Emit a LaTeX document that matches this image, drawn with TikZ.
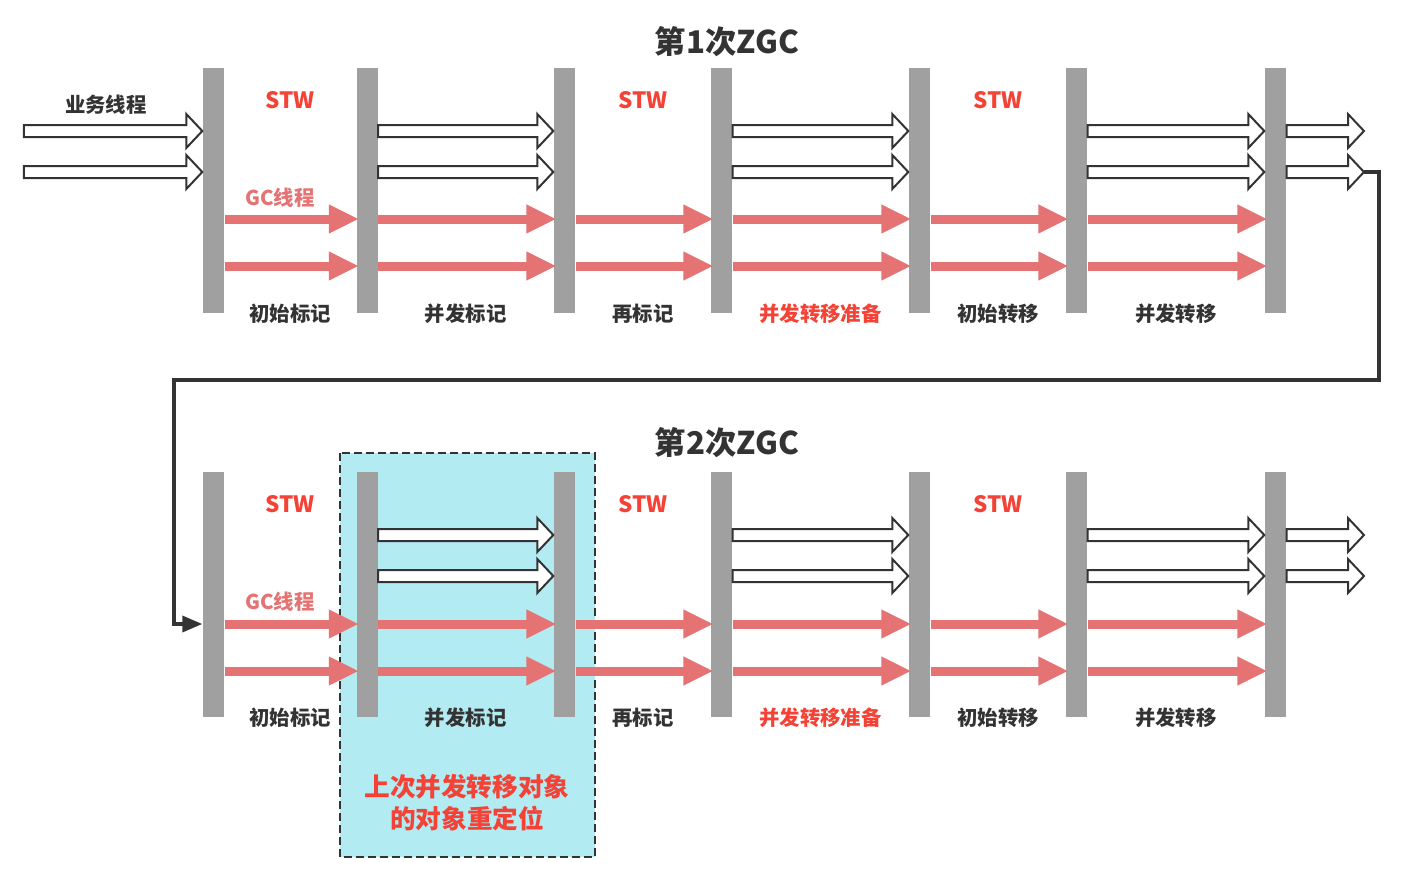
\documentclass[tikz,border=0pt]{standalone}
\usepackage{fontspec}
\setmainfont{Noto Sans CJK SC}
\usetikzlibrary{arrows.meta,calc}

\definecolor{bargray}{RGB}{160,160,160}
\definecolor{gcred}{RGB}{229,115,115}
\definecolor{stwred}{RGB}{244,67,54}
\definecolor{ink}{RGB}{51,51,51}
\definecolor{relocbg}{RGB}{178,235,242}

% hollow arrow of a business thread, from #1 to #2
\newcommand{\bizarrow}[2]{\draw[bizline] let \p1=#1, \p2=#2 in
  (\x1,\y1+0.6mm) -- (\x2-1.6mm,\y1+0.6mm) -- (\x2-1.6mm,\y1+1.7mm) -- (\x2,\y1)
  -- (\x2-1.6mm,\y1-1.7mm) -- (\x2-1.6mm,\y1-0.6mm) -- (\x1,\y1-0.6mm) -- cycle;}

\tikzset{
  bar/.style={fill=bargray, draw=none, inner sep=0pt, minimum width=2.1mm, minimum height=24.5mm},
  gcline/.style={draw=gcred, line width=0.9mm, shorten >=-0.3mm, -{Triangle[length=3mm,width=2.7mm]}},
  bizline/.style={draw=ink, fill=white, line width=0.2mm, line join=miter},
  loopline/.style={draw=ink, line width=0.35mm, -{Triangle[length=2mm,width=1.6mm]}},
  phase/.style={font=\fontsize{5.8}{7}\selectfont\bfseries, text=ink},
  redphase/.style={phase, text=stwred},
  stw/.style={font=\fontsize{6.4}{8}\selectfont\bfseries, text=stwred},
  gclabel/.style={font=\fontsize{5.8}{7}\selectfont\bfseries, text=gcred},
  heading/.style={font=\fontsize{8.9}{11}\selectfont\bfseries, text=ink},
  relocbox/.style={fill=relocbg, draw=ink, line width=0.2mm, dash pattern=on 0.8mm off 0.4mm},
  reloctext/.style={font=\fontsize{7.3}{9.1}\selectfont\bfseries, text=stwred, align=center}
}

\begin{document}
\begin{tikzpicture}[x=0.1mm,y=-0.1mm]
\useasboundingbox (0,0) rectangle (1403,882);

% relocation area behind the second cycle
\draw[relocbox] (340,453) rectangle (595,857);
\node[reloctext] (reloc) at (467,803) {上次并发转移对象\\的对象重定位};

% rows
\coordinate (tu1) at (0,131);
\coordinate (tu2) at (0,172);
\coordinate (tg1) at (0,219);
\coordinate (tg2) at (0,266);
\coordinate (bu1) at (0,535);
\coordinate (bu2) at (0,576);
\coordinate (bg1) at (0,624);
\coordinate (bg2) at (0,671);

% first ZGC
\node[heading] (z1) at (727,42) {第1次ZGC};
\node[bar] (t1) at (213.5,190.5) {};
\node[bar] (t2) at (367,190.5) {};
\node[bar] (t3) at (564.5,190.5) {};
\node[bar] (t4) at (721.5,190.5) {};
\node[bar] (t5) at (919.5,190.5) {};
\node[bar] (t6) at (1076.5,190.5) {};
\node[bar] (t7) at (1275.5,190.5) {};

\coordinate (tin1) at (24,131);
\coordinate (tin2) at (24,172);
\coordinate (tout1) at (1364,131);
\coordinate (tout2) at (1364,172);

\bizarrow{(tin1)}{(t1.west |- tu1)}
\bizarrow{(tin2)}{(t1.west |- tu2)}
\bizarrow{(t2.east |- tu1)}{(t3.west |- tu1)}
\bizarrow{(t2.east |- tu2)}{(t3.west |- tu2)}
\bizarrow{(t4.east |- tu1)}{(t5.west |- tu1)}
\bizarrow{(t4.east |- tu2)}{(t5.west |- tu2)}
\bizarrow{(t6.east |- tu1)}{(t7.west |- tu1)}
\bizarrow{(t6.east |- tu2)}{(t7.west |- tu2)}
\bizarrow{(t7.east |- tu1)}{(tout1)}
\bizarrow{(t7.east |- tu2)}{(tout2)}

\draw[gcline] (t1.east |- tg1) -- (t2.west |- tg1);
\draw[gcline] (t1.east |- tg2) -- (t2.west |- tg2);
\draw[gcline] (t2.east |- tg1) -- (t3.west |- tg1);
\draw[gcline] (t2.east |- tg2) -- (t3.west |- tg2);
\draw[gcline] (t3.east |- tg1) -- (t4.west |- tg1);
\draw[gcline] (t3.east |- tg2) -- (t4.west |- tg2);
\draw[gcline] (t4.east |- tg1) -- (t5.west |- tg1);
\draw[gcline] (t4.east |- tg2) -- (t5.west |- tg2);
\draw[gcline] (t5.east |- tg1) -- (t6.west |- tg1);
\draw[gcline] (t5.east |- tg2) -- (t6.west |- tg2);
\draw[gcline] (t6.east |- tg1) -- (t7.west |- tg1);
\draw[gcline] (t6.east |- tg2) -- (t7.west |- tg2);

\node[phase] (biz) at (106,105) {业务线程};
\node[gclabel] (tgc) at (280,198) {GC线程};
\node[stw] (ts1) at ($(t1.north)!0.5!(t2.north)+(0,33)$) {STW};
\node[stw] (ts2) at ($(t3.north)!0.5!(t4.north)+(0,33)$) {STW};
\node[stw] (ts3) at ($(t5.north)!0.5!(t6.north)+(0,33)$) {STW};

\node[phase] (tp1) at ($(t1.south)!0.5!(t2.south)$) {初始标记};
\node[phase] (tp2) at ($(t2.south)!0.5!(t3.south)$) {并发标记};
\node[phase] (tp3) at ($(t3.south)!0.5!(t4.south)$) {再标记};
\node[redphase] (tp4) at ($(t4.south)!0.5!(t5.south)$) {并发转移准备};
\node[phase] (tp5) at ($(t5.south)!0.5!(t6.south)$) {初始转移};
\node[phase] (tp6) at ($(t6.south)!0.5!(t7.south)$) {并发转移};

% second ZGC
\node[heading] (z2) at (727,443) {第2次ZGC};
\node[bar] (b1) at (213.5,594.5) {};
\node[bar] (b2) at (367,594.5) {};
\node[bar] (b3) at (564.5,594.5) {};
\node[bar] (b4) at (721.5,594.5) {};
\node[bar] (b5) at (919.5,594.5) {};
\node[bar] (b6) at (1076.5,594.5) {};
\node[bar] (b7) at (1275.5,594.5) {};

\coordinate (bout1) at (1364,535);
\coordinate (bout2) at (1364,576);

\bizarrow{(b2.east |- bu1)}{(b3.west |- bu1)}
\bizarrow{(b2.east |- bu2)}{(b3.west |- bu2)}
\bizarrow{(b4.east |- bu1)}{(b5.west |- bu1)}
\bizarrow{(b4.east |- bu2)}{(b5.west |- bu2)}
\bizarrow{(b6.east |- bu1)}{(b7.west |- bu1)}
\bizarrow{(b6.east |- bu2)}{(b7.west |- bu2)}
\bizarrow{(b7.east |- bu1)}{(bout1)}
\bizarrow{(b7.east |- bu2)}{(bout2)}

\draw[gcline] (b1.east |- bg1) -- (b2.west |- bg1);
\draw[gcline] (b1.east |- bg2) -- (b2.west |- bg2);
\draw[gcline] (b2.east |- bg1) -- (b3.west |- bg1);
\draw[gcline] (b2.east |- bg2) -- (b3.west |- bg2);
\draw[gcline] (b3.east |- bg1) -- (b4.west |- bg1);
\draw[gcline] (b3.east |- bg2) -- (b4.west |- bg2);
\draw[gcline] (b4.east |- bg1) -- (b5.west |- bg1);
\draw[gcline] (b4.east |- bg2) -- (b5.west |- bg2);
\draw[gcline] (b5.east |- bg1) -- (b6.west |- bg1);
\draw[gcline] (b5.east |- bg2) -- (b6.west |- bg2);
\draw[gcline] (b6.east |- bg1) -- (b7.west |- bg1);
\draw[gcline] (b6.east |- bg2) -- (b7.west |- bg2);

\node[gclabel] (bgc) at (280,602) {GC线程};
\node[stw] (bs1) at ($(b1.north)!0.5!(b2.north)+(0,33)$) {STW};
\node[stw] (bs2) at ($(b3.north)!0.5!(b4.north)+(0,33)$) {STW};
\node[stw] (bs3) at ($(b5.north)!0.5!(b6.north)+(0,33)$) {STW};

\node[phase] (bp1) at ($(b1.south)!0.5!(b2.south)$) {初始标记};
\node[phase] (bp2) at ($(b2.south)!0.5!(b3.south)$) {并发标记};
\node[phase] (bp3) at ($(b3.south)!0.5!(b4.south)$) {再标记};
\node[redphase] (bp4) at ($(b4.south)!0.5!(b5.south)$) {并发转移准备};
\node[phase] (bp5) at ($(b5.south)!0.5!(b6.south)$) {初始转移};
\node[phase] (bp6) at ($(b6.south)!0.5!(b7.south)$) {并发转移};

% back from the first cycle into the second
\draw[loopline] (tout2) -- ++(15,0) |- (174,380) |- (b1.west |- bg1);
\end{tikzpicture}
\end{document}
